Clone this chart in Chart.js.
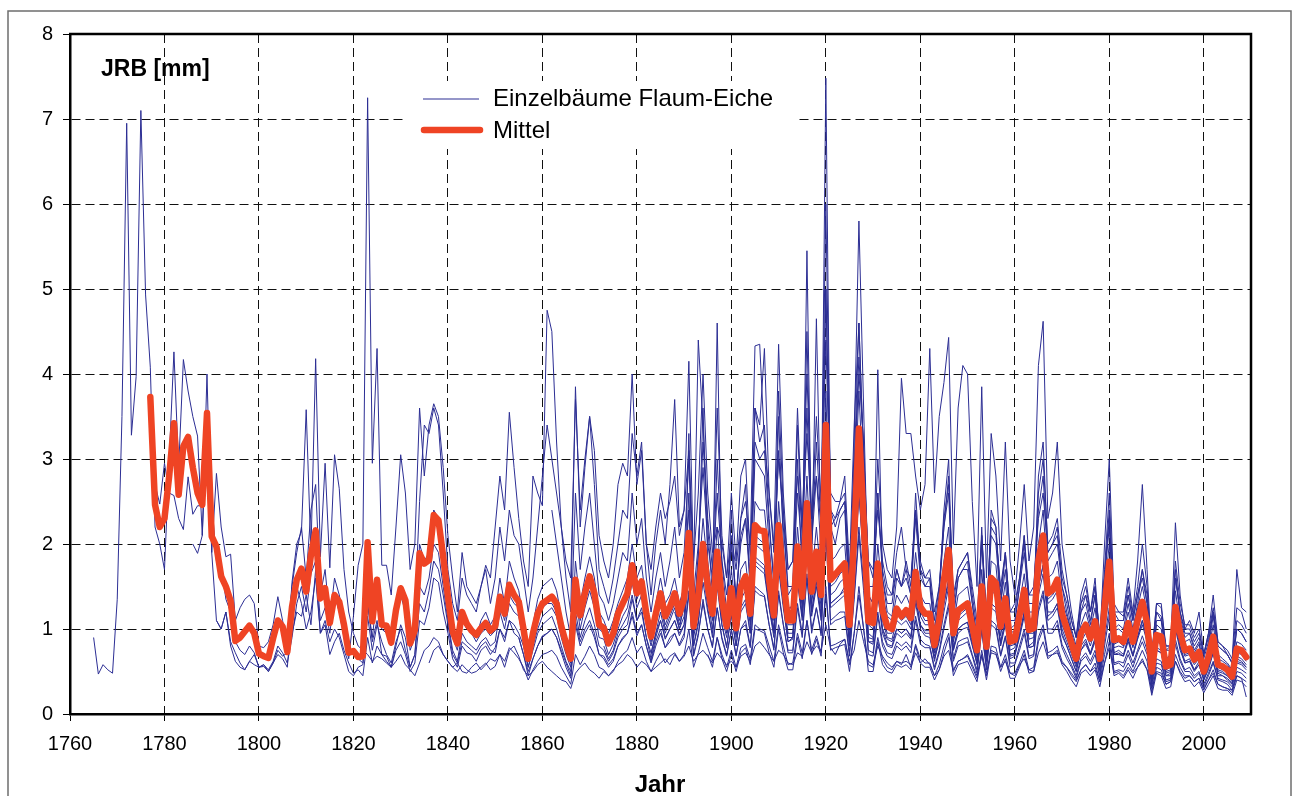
<!DOCTYPE html>
<html>
<head>
<meta charset="utf-8">
<script src="https://cdn.jsdelivr.net/npm/chart.js@4.4.1/dist/chart.umd.min.js"></script>
<style>
  html, body { margin: 0; padding: 0; background: #fff; }
  #wrap { width: 1293px; height: 796px; position: relative; }
</style>
</head>
<body>
<div id="wrap"><canvas id="c" width="1293" height="796"></canvas></div>
<script>
// ---------------- DATA ----------------
const xTickLabels = [1760, 1780, 1800, 1820, 1840, 1860, 1880, 1900, 1920, 1940, 1960, 1980, 2000];
const yTickLabels = [0, 1, 2, 3, 4, 5, 6, 7, 8];
const seriesNames = ['Einzelbäume Flaum-Eiche', 'Mittel'];
const axisTitleY = 'JRB [mm]';
const axisTitleX = 'Jahr';

// mean ring width (Mittel), 1777 - 2009
const meanStart = 1777;
const meanValues = [
  3.73, 2.46, 2.20, 2.30, 2.80, 3.42, 2.58, 3.15, 3.26, 2.90,
  2.60, 2.46, 3.54, 2.09, 1.97, 1.62, 1.50, 1.33, 0.86, 0.90,
  0.97, 1.04, 0.95, 0.71, 0.68, 0.66, 0.89, 1.10, 1.03, 0.73,
  1.26, 1.58, 1.71, 1.44, 1.87, 2.16, 1.36, 1.48, 1.07, 1.40,
  1.32, 1.05, 0.72, 0.74, 0.67, 0.68, 2.02, 1.09, 1.58, 1.05,
  1.04, 0.84, 1.22, 1.48, 1.34, 0.83, 0.99, 1.89, 1.77, 1.81,
  2.34, 2.28, 1.85, 1.38, 0.97, 0.83, 1.20, 1.06, 0.98, 0.93,
  1.01, 1.07, 0.98, 1.03, 1.38, 1.18, 1.52, 1.40, 1.32, 1.00,
  0.65, 0.95, 1.18, 1.30, 1.34, 1.38, 1.30, 1.03, 0.83, 0.65,
  1.58, 1.16, 1.42, 1.62, 1.42, 1.05, 1.01, 0.83, 0.95, 1.18,
  1.30, 1.42, 1.75, 1.42, 1.56, 1.18, 0.91, 1.18, 1.42, 1.15,
  1.26, 1.42, 1.18, 1.36, 2.13, 1.03, 1.38, 2.00, 1.50, 1.18,
  1.91, 1.34, 1.03, 1.48, 1.01, 1.50, 1.62, 1.18, 2.22, 2.16,
  2.15, 1.58, 1.16, 2.22, 1.58, 1.10, 1.10, 1.97, 1.38, 2.48,
  1.44, 1.91, 1.40, 3.40, 1.58, 1.64, 1.71, 1.77, 1.05, 2.09,
  3.36, 2.28, 1.09, 1.07, 1.77, 1.22, 1.03, 1.00, 1.24, 1.15,
  1.22, 1.13, 1.67, 1.26, 1.18, 1.18, 0.81, 1.10, 1.58, 1.93,
  0.95, 1.22, 1.26, 1.30, 1.03, 0.75, 1.50, 0.79, 1.60, 1.54,
  1.03, 1.36, 0.85, 0.87, 1.16, 1.46, 0.99, 1.01, 1.81, 2.10,
  1.42, 1.46, 1.58, 1.18, 1.01, 0.83, 0.65, 0.95, 1.05, 0.89,
  1.09, 0.65, 1.26, 1.79, 0.87, 0.89, 0.85, 1.07, 0.85, 1.10,
  1.32, 1.07, 0.50, 0.93, 0.91, 0.56, 0.58, 1.26, 0.95, 0.75,
  0.77, 0.64, 0.73, 0.50, 0.67, 0.91, 0.58, 0.56, 0.52, 0.44,
  0.77, 0.75, 0.67
];

// individual trees: first year of each series
const treeStartYears = [1765, 1777, 1786, 1791, 1806, 1822, 1833, 1836, 1846, 1855, 1862, 1873, 1883, 1888, 1895, 1905];

const tree01 = [
  0.90, 0.47, 0.58, 0.52, 0.48, 1.35, 3.50, 6.95, 3.28, 3.97,
  7.10, 4.93, 4.08, 2.20, 2.00, 1.70, 3.00, 4.26, 2.90, 4.17,
  3.80, 3.50, 3.27, 2.10, 4.00, 1.90, 2.83, 2.20, 1.85, 1.88,
  1.10, 1.25, 1.35, 1.40, 1.30, 0.80, 0.78, 0.85, 1.05, 1.38,
  1.10, 0.75, 1.55, 2.00, 2.15, 3.58, 1.90, 4.18, 1.85, 2.95,
  1.72, 3.05, 2.65, 1.70, 1.20, 0.95, 0.80, 0.75, 0.70, 0.62,
  0.68, 0.65, 0.60, 0.55, 0.62, 0.70, 0.58, 0.52, 0.45, 0.60,
  0.75, 0.80, 0.90, 0.85, 0.70, 0.62, 0.55, 0.60, 0.50, 0.48,
  0.55, 0.60, 0.52, 0.58, 0.65, 0.62, 0.70, 0.55, 0.75, 0.80,
  0.68, 0.52, 0.45, 0.50, 0.58, 0.62, 0.55, 0.50, 0.45, 0.40,
  0.38, 0.30, 0.48, 0.55, 0.60, 0.52, 0.48, 0.42, 0.50, 0.45,
  0.52, 0.58, 0.62, 0.70, 0.65, 0.55, 0.62, 0.58, 0.50, 0.55,
  0.60, 0.65, 0.58, 0.70, 0.62, 0.68, 0.80, 0.62, 0.70, 0.75,
  0.68, 0.60, 0.72, 0.65, 0.58, 0.62, 0.55, 0.68, 0.72, 0.62,
  0.80, 0.85, 0.78, 0.70, 0.62, 0.75, 0.70, 0.60, 0.58, 0.72,
  0.68, 0.85, 0.72, 0.80, 0.75, 1.05, 0.78, 0.70, 0.82, 0.88,
  0.62, 0.75, 1.10, 0.85, 0.62, 0.58, 0.80, 0.68, 0.60, 0.55,
  0.62, 0.58, 0.70, 0.55, 0.72, 0.60, 0.65, 0.58, 0.45, 0.52,
  0.68, 0.75, 0.50, 0.62, 0.65, 0.70, 0.58, 0.45, 0.68, 0.48,
  0.72, 0.70, 0.55, 0.62, 0.48, 0.45, 0.58, 0.65, 0.52, 0.50,
  0.72, 0.85, 0.65, 0.70, 0.72, 0.60, 0.55, 0.48, 0.40, 0.52,
  0.58, 0.50, 0.55, 0.38, 0.60, 0.78, 0.48, 0.50, 0.45, 0.55,
  0.48, 0.55, 0.62, 0.52, 0.30, 0.50, 0.48, 0.35, 0.38, 0.62,
  0.50, 0.42, 0.45, 0.38, 0.42, 0.30, 0.40, 0.48, 0.35, 0.32,
  0.30, 0.28, 0.45, 0.42, 0.38
];
const tree02 = [
  3.36, 2.70, 2.47, 2.95, 2.60, 2.57, 2.30, 2.17, 2.79, 2.35,
  2.45, 2.45, 3.20, 2.50, 1.80, 1.75, 1.35, 1.20, 0.85, 0.75,
  0.70, 0.80, 0.72, 0.55, 0.58, 0.52, 0.62, 0.80, 0.72, 0.60,
  0.90, 1.30, 1.50, 1.20, 1.65, 1.80, 1.10, 1.25, 0.95, 1.40,
  1.20, 0.90, 0.65, 1.15, 1.75, 2.00, 7.25, 2.95, 4.30, 1.75,
  1.75, 1.40, 2.20, 3.05, 2.60, 1.70, 2.00, 3.60, 2.80, 3.40,
  3.65, 3.50, 2.90, 2.10, 1.60, 1.20, 1.90, 1.50, 1.40, 1.30,
  1.50, 1.75, 1.60, 2.20, 2.80, 2.40, 3.55, 2.90, 2.30, 1.80,
  1.50, 2.80, 2.60, 2.45, 4.75, 4.50, 3.20, 2.20, 1.80, 1.60,
  3.70, 2.40, 3.00, 3.50, 3.10, 2.10, 1.80, 1.60, 2.00, 2.70,
  2.95, 2.80, 4.00, 2.70, 3.10, 2.00, 1.70, 2.20, 2.60, 2.30,
  2.50, 2.80, 2.10, 2.40, 3.10, 1.80, 2.60, 4.00, 2.60, 1.90,
  2.20, 2.00, 1.60, 2.10, 1.70, 2.30, 2.50, 2.00, 4.33, 4.35,
  3.20, 2.60, 1.90, 3.00, 2.40, 1.70, 1.80, 2.80, 2.20, 3.30,
  2.30, 2.80, 2.20, 4.40, 2.40, 2.30, 2.50, 2.60, 1.60, 2.80,
  4.20, 3.10, 1.80, 1.70, 2.40, 1.80, 1.50, 1.40, 1.90, 2.20,
  1.70, 1.60, 2.40, 1.80, 1.60, 1.70, 1.20, 1.50, 2.30, 2.70,
  1.40, 1.70, 1.80, 1.90, 1.50, 1.10, 2.10, 1.20, 2.20, 2.10,
  1.50, 1.90, 1.20, 1.30, 1.60, 2.00, 1.40, 1.50, 2.30, 2.60,
  1.90, 2.00, 2.10, 1.60, 1.40, 1.10, 0.90, 1.30, 1.40, 1.20,
  1.50, 0.90, 1.60, 2.30, 1.20, 1.10, 1.10, 1.40, 1.10, 1.40,
  1.60, 1.30, 0.70, 1.20, 1.10, 0.80, 0.80, 1.60, 1.20, 1.00,
  1.00, 0.85, 0.95, 0.70, 0.90, 1.20, 0.80, 0.75, 0.70, 0.60,
  1.00, 0.95, 0.85
];
const tree03 = [
  2.00, 1.89, 2.10, 3.40, 1.90, 1.10, 1.00, 1.20, 0.85, 0.72,
  0.60, 0.52, 0.62, 0.70, 0.55, 0.58, 0.50, 0.60, 0.75, 0.68,
  0.72, 0.95, 1.20, 1.15, 1.40, 1.05, 1.70, 0.95, 1.10, 0.85,
  1.00, 0.90, 0.70, 0.50, 0.45, 0.55, 0.58, 1.15, 0.75, 1.05,
  0.85, 0.70, 0.60, 0.85, 1.00, 0.75, 0.55, 0.70, 1.30, 1.20,
  1.45, 1.80, 1.70, 1.40, 1.05, 0.70, 0.60, 0.85, 0.80, 0.75,
  0.70, 0.80, 0.85, 0.75, 0.72, 1.00, 0.90, 1.10, 1.05, 0.95,
  0.80, 0.55, 0.75, 0.95, 1.05, 1.10, 1.15, 1.00, 0.80, 0.62,
  0.50, 1.20, 0.90, 1.10, 1.25, 1.05, 0.80, 0.75, 0.62, 0.72,
  0.90, 1.00, 1.05, 1.35, 1.10, 1.20, 0.90, 0.72, 0.95, 1.10,
  0.90, 1.00, 1.10, 0.95, 1.05, 1.65, 0.80, 1.10, 1.55, 1.20,
  0.95, 1.50, 1.05, 0.80, 1.15, 0.80, 1.20, 1.30, 0.95, 1.75,
  1.70, 1.65, 1.25, 0.95, 1.70, 1.25, 0.85, 0.90, 1.55, 1.10,
  1.90, 1.15, 1.50, 1.10, 2.60, 1.25, 1.30, 1.35, 1.40, 0.85,
  1.60, 2.60, 1.80, 0.85, 0.85, 1.40, 0.95, 0.80, 0.78, 0.95,
  0.90, 0.95, 0.88, 1.30, 1.00, 0.92, 0.90, 0.65, 0.85, 1.20,
  1.50, 0.75, 0.95, 1.00, 1.02, 0.80, 0.60, 1.15, 0.62, 1.25,
  1.20, 0.80, 1.05, 0.68, 0.70, 0.90, 1.15, 0.78, 0.80, 1.40,
  1.65, 1.10, 1.15, 1.25, 0.92, 0.80, 0.65, 0.50, 0.75, 0.82,
  0.70, 0.85, 0.52, 1.00, 1.40, 0.70, 0.70, 0.68, 0.85, 0.68,
  0.88, 1.05, 0.85, 0.40, 0.75, 0.72, 0.45, 0.48, 1.00, 0.75,
  0.60, 0.62, 0.52, 0.58, 0.40, 0.55, 0.72, 0.48, 0.45, 0.42,
  0.36, 0.62, 0.60, 0.55
];
const tree04 = [
  1.10, 1.00, 1.20, 0.80, 0.62, 0.55, 0.52, 0.62, 0.58, 0.55,
  0.56, 0.50, 0.60, 0.70, 0.65, 0.55, 1.20, 1.50, 1.30, 1.00,
  1.20, 1.60, 0.95, 1.05, 0.70, 0.85, 0.95, 0.75, 0.60, 0.48,
  0.52, 0.45, 0.90, 0.60, 0.80, 0.70, 0.62, 0.55, 0.75, 0.85,
  0.70, 0.50, 0.60, 1.10, 1.05, 1.25, 1.60, 1.55, 1.20, 0.95,
  0.65, 0.55, 0.80, 0.72, 0.70, 0.62, 0.75, 0.80, 0.70, 0.78,
  1.00, 0.85, 1.10, 0.95, 0.90, 0.70, 0.50, 0.65, 0.80, 0.92,
  0.95, 1.00, 0.90, 0.75, 0.60, 0.45, 1.10, 0.85, 1.00, 1.10,
  0.95, 0.70, 0.68, 0.58, 0.65, 0.80, 0.90, 0.95, 1.20, 0.95,
  1.05, 0.80, 0.62, 0.85, 1.00, 0.78, 0.90, 0.95, 0.82, 0.95,
  1.45, 0.70, 0.95, 1.30, 1.00, 0.80, 1.25, 0.90, 0.70, 1.00,
  0.70, 1.00, 1.10, 0.80, 1.50, 1.45, 1.40, 1.05, 0.78, 1.45,
  1.05, 0.75, 0.75, 1.30, 0.95, 1.65, 1.00, 1.25, 0.95, 2.20,
  1.10, 1.15, 1.20, 1.20, 0.72, 1.40, 2.20, 1.55, 0.75, 0.72,
  1.20, 0.85, 0.72, 0.70, 0.85, 0.80, 0.85, 0.78, 1.15, 0.88,
  0.82, 0.80, 0.55, 0.75, 1.05, 1.30, 0.65, 0.85, 0.88, 0.90,
  0.70, 0.52, 1.00, 0.55, 1.10, 1.05, 0.70, 0.92, 0.60, 0.60,
  0.80, 1.00, 0.68, 0.70, 1.25, 1.45, 1.00, 1.00, 1.10, 0.82,
  0.70, 0.58, 0.45, 0.65, 0.72, 0.62, 0.75, 0.45, 0.88, 1.25,
  0.60, 0.62, 0.60, 0.75, 0.60, 0.75, 0.92, 0.75, 0.35, 0.65,
  0.62, 0.40, 0.42, 0.88, 0.65, 0.52, 0.55, 0.45, 0.50, 0.35,
  0.48, 0.62, 0.42, 0.40, 0.38, 0.32, 0.55, 0.52, 0.48
];
const tree05 = [
  0.80, 1.50, 1.90, 2.20, 1.60, 2.40, 2.70, 1.40, 1.70, 1.10,
  1.60, 1.40, 1.10, 0.80, 0.70, 0.65, 0.60, 1.30, 0.90, 1.40,
  1.00, 0.95, 0.80, 1.30, 1.40, 1.20, 0.75, 0.90, 2.00, 1.80,
  1.90, 2.40, 2.30, 1.80, 1.30, 0.90, 0.75, 1.10, 1.00, 0.95,
  0.85, 0.95, 1.00, 0.92, 0.98, 1.30, 1.10, 1.40, 1.30, 1.25,
  0.95, 0.62, 0.90, 1.10, 1.25, 1.30, 1.30, 1.20, 0.95, 0.78,
  0.60, 1.50, 1.10, 1.35, 1.55, 1.35, 1.00, 0.95, 0.80, 0.90,
  1.10, 1.25, 1.35, 1.70, 1.35, 1.50, 1.10, 0.85, 1.10, 1.35,
  1.05, 1.20, 1.35, 1.10, 1.30, 2.10, 0.95, 1.30, 1.90, 1.45,
  1.10, 1.85, 1.30, 0.95, 1.40, 0.95, 1.45, 1.55, 1.10, 2.10,
  2.05, 2.00, 1.50, 1.10, 2.10, 1.50, 1.05, 1.05, 1.85, 1.30,
  2.40, 1.40, 1.80, 1.35, 3.20, 1.50, 1.55, 1.65, 1.70, 1.00,
  2.00, 3.20, 2.20, 1.05, 1.00, 1.70, 1.15, 0.95, 0.95, 1.20,
  1.10, 1.15, 1.05, 1.60, 1.20, 1.10, 1.10, 0.75, 1.05, 1.50,
  1.85, 0.90, 1.15, 1.20, 1.25, 0.95, 0.70, 1.45, 0.75, 1.55,
  1.50, 1.00, 1.30, 0.80, 0.82, 1.10, 1.40, 0.95, 0.95, 1.75,
  2.00, 1.35, 1.40, 1.50, 1.10, 0.95, 0.78, 0.60, 0.90, 1.00,
  0.85, 1.05, 0.60, 1.20, 1.70, 0.82, 0.85, 0.80, 1.00, 0.80,
  1.05, 1.25, 1.00, 0.48, 0.88, 0.85, 0.52, 0.55, 1.20, 0.90,
  0.70, 0.72, 0.60, 0.70, 0.48, 0.65, 0.88, 0.55, 0.52, 0.50,
  0.42, 0.72, 0.70, 0.62
];
const tree06 = [
  0.70, 1.30, 0.85, 1.10, 0.70, 0.68, 0.55, 0.80, 1.05, 0.90,
  0.55, 0.70, 1.50, 1.40, 1.60, 2.00, 1.90, 1.50, 1.10, 0.75,
  0.62, 0.95, 0.85, 0.80, 0.75, 0.85, 0.90, 0.80, 0.85, 1.20,
  1.00, 1.30, 1.20, 1.15, 0.85, 0.55, 0.80, 1.00, 1.15, 1.20,
  1.25, 1.15, 0.90, 0.70, 0.55, 1.40, 1.00, 1.25, 1.45, 1.25,
  0.90, 0.88, 0.70, 0.82, 1.00, 1.15, 1.25, 1.55, 1.25, 1.40,
  1.05, 0.80, 1.05, 1.30, 1.00, 1.15, 1.30, 1.05, 1.25, 3.30,
  1.10, 1.80, 3.60, 1.80, 1.30, 4.60, 1.50, 1.00, 2.40, 1.20,
  2.30, 2.70, 1.40, 3.00, 2.90, 2.80, 2.00, 1.30, 3.50, 2.00,
  1.20, 1.30, 3.00, 1.60, 5.45, 1.80, 4.65, 2.00, 7.48, 2.20,
  2.00, 2.30, 2.40, 1.20, 3.20, 5.80, 3.60, 1.40, 1.30, 4.05,
  1.60, 1.20, 1.15, 1.60, 1.50, 1.70, 1.40, 2.60, 1.70, 1.50,
  1.60, 0.90, 1.40, 2.40, 3.00, 1.10, 1.60, 1.70, 1.80, 1.30,
  0.85, 2.20, 0.95, 2.40, 2.20, 1.30, 1.90, 1.00, 1.05, 1.50,
  2.10, 1.20, 1.20, 2.80, 3.20, 1.90, 2.00, 2.20, 1.50, 1.20,
  0.95, 0.75, 1.20, 1.30, 1.05, 1.40, 0.75, 1.60, 2.40, 1.00,
  1.05, 1.00, 1.30, 1.00, 1.30, 1.70, 1.30, 0.55, 1.10, 1.10,
  0.65, 0.70, 1.70, 1.15, 0.90, 0.95, 0.75, 0.85, 0.55, 0.80,
  1.15, 0.70, 0.65, 0.60, 0.52, 1.00, 0.95, 0.85
];
const tree07 = [
  1.20, 2.50, 3.40, 3.30, 3.60, 3.40, 2.60, 1.70, 1.30, 1.10,
  1.60, 1.40, 1.30, 1.20, 1.50, 1.70, 1.30, 1.60, 2.20, 1.80,
  2.40, 2.10, 2.00, 1.60, 1.20, 1.60, 2.20, 2.80, 3.40, 3.00,
  2.60, 2.20, 1.60, 1.20, 3.85, 2.20, 2.90, 3.50, 2.70, 1.70,
  1.50, 1.30, 1.60, 2.00, 2.40, 2.30, 3.30, 2.80, 3.20, 2.00,
  1.40, 2.00, 2.40, 2.00, 2.70, 3.70, 2.20, 2.40, 4.15, 1.70,
  4.40, 3.40, 2.30, 1.70, 3.60, 2.10, 1.60, 2.60, 1.80, 2.80,
  3.00, 1.80, 3.60, 3.40, 4.30, 2.60, 2.00, 4.35, 2.60, 1.70,
  1.80, 3.60, 2.20, 4.00, 2.30, 3.50, 2.50, 5.00, 2.60, 2.50,
  2.50, 2.80, 1.70, 3.40, 4.60, 3.00, 1.80, 1.60, 3.00, 2.00,
  1.70, 1.60, 2.20, 3.95, 3.30, 3.30, 2.80, 2.40, 2.70, 4.30,
  2.60, 3.50, 3.90, 4.43, 2.00, 3.60, 4.10, 4.00, 2.50, 1.50,
  3.85, 1.60, 3.30, 2.80, 1.80, 3.20, 1.80, 1.40, 2.00, 2.70,
  1.80, 2.20, 4.10, 4.62, 2.30, 2.60, 3.20, 2.00, 1.60, 1.20,
  0.90, 1.40, 1.60, 1.20, 1.60, 0.85, 2.00, 3.00, 1.30, 1.20,
  1.20, 1.60, 1.20, 1.80, 2.70, 1.70, 0.65, 1.30, 1.30, 0.75,
  0.80, 2.25, 1.40, 1.00, 1.10, 0.95, 1.20, 0.70, 0.95, 1.40,
  0.85, 0.80, 0.70, 0.60, 1.70, 1.25, 1.20
];
const tree08 = [
  0.60, 0.75, 0.80, 0.70, 0.62, 0.55, 0.50, 0.58, 0.52, 0.48,
  0.50, 0.55, 0.60, 0.52, 0.56, 0.70, 0.62, 0.78, 0.72, 0.65,
  0.55, 0.40, 0.52, 0.62, 0.70, 0.72, 0.75, 0.68, 0.55, 0.45,
  0.35, 0.70, 0.58, 0.68, 0.80, 0.70, 0.55, 0.52, 0.45, 0.50,
  0.62, 0.70, 0.75, 0.90, 0.72, 0.80, 0.62, 0.50, 0.62, 0.72,
  0.60, 0.68, 0.72, 0.62, 0.70, 1.00, 0.55, 0.72, 0.95, 0.78,
  0.62, 0.90, 0.70, 0.55, 0.75, 0.55, 0.78, 0.82, 0.65, 1.05,
  1.00, 0.98, 0.80, 0.62, 1.05, 0.80, 0.58, 0.60, 0.95, 0.72,
  1.10, 0.75, 0.92, 0.72, 1.40, 0.80, 0.82, 0.85, 0.88, 0.58,
  0.95, 1.40, 1.00, 0.58, 0.55, 0.90, 0.65, 0.55, 0.52, 0.62,
  0.60, 0.62, 0.58, 0.82, 0.65, 0.60, 0.60, 0.45, 0.58, 0.80,
  0.95, 0.52, 0.62, 0.65, 0.68, 0.55, 0.42, 0.75, 0.45, 0.80,
  0.78, 0.55, 0.70, 0.48, 0.48, 0.60, 0.75, 0.52, 0.55, 0.90,
  1.05, 0.72, 0.75, 0.80, 0.62, 0.55, 0.45, 0.38, 0.52, 0.58,
  0.50, 0.60, 0.38, 0.70, 0.95, 0.50, 0.52, 0.50, 0.60, 0.50,
  0.62, 0.75, 0.62, 0.25, 0.55, 0.52, 0.35, 0.38, 0.70, 0.55,
  0.45, 0.45, 0.38, 0.42, 0.28, 0.40, 0.52, 0.35, 0.32, 0.30,
  0.25, 0.45, 0.42, 0.20
];
const tree09 = [
  0.90, 1.10, 1.20, 1.05, 1.15, 1.60, 1.30, 1.80, 1.60, 1.45,
  1.10, 0.75, 1.05, 1.35, 1.50, 1.55, 1.60, 1.45, 1.15, 0.90,
  0.70, 1.80, 1.30, 1.60, 1.85, 1.60, 1.20, 1.10, 0.95, 1.10,
  1.30, 1.45, 1.60, 2.00, 1.60, 1.75, 1.30, 1.00, 1.30, 1.60,
  1.30, 1.40, 1.60, 1.30, 1.50, 2.40, 1.15, 1.55, 2.30, 1.70,
  1.30, 2.20, 1.50, 1.15, 1.70, 1.15, 1.70, 1.80, 1.30, 2.50,
  2.40, 2.40, 1.80, 1.30, 2.50, 1.80, 1.25, 1.25, 2.20, 1.55,
  2.80, 1.60, 2.20, 1.60, 3.80, 1.80, 1.85, 1.95, 2.00, 1.20,
  2.40, 3.80, 2.60, 1.25, 1.20, 2.00, 1.40, 1.15, 1.10, 1.40,
  1.30, 1.40, 1.25, 1.90, 1.40, 1.30, 1.30, 0.90, 1.25, 1.80,
  2.20, 1.05, 1.40, 1.45, 1.50, 1.15, 0.85, 1.70, 0.90, 1.80,
  1.75, 1.15, 1.55, 0.95, 0.98, 1.30, 1.65, 1.10, 1.15, 2.00,
  2.40, 1.60, 1.65, 1.80, 1.35, 1.15, 0.95, 0.72, 1.05, 1.20,
  1.00, 1.25, 0.72, 1.45, 2.00, 0.98, 1.00, 0.95, 1.20, 0.95,
  1.25, 1.50, 1.20, 0.55, 1.05, 1.00, 0.62, 0.65, 1.45, 1.05,
  0.85, 0.88, 0.72, 0.82, 0.55, 0.75, 1.05, 0.65, 0.62, 0.58,
  0.50, 0.85, 0.82, 0.75
];
const tree10 = [
  0.90, 0.70, 0.45, 0.65, 0.80, 0.90, 0.95, 1.00, 0.90, 0.72,
  0.55, 0.42, 1.05, 0.80, 0.95, 1.05, 0.90, 0.70, 0.65, 0.55,
  0.62, 0.80, 0.88, 0.95, 1.15, 0.92, 1.05, 0.80, 0.60, 0.80,
  0.95, 0.78, 0.85, 0.95, 0.80, 0.90, 1.40, 0.68, 0.92, 1.35,
  1.00, 0.78, 1.25, 0.88, 0.68, 0.98, 0.68, 1.00, 1.05, 0.78,
  1.45, 1.40, 1.38, 1.05, 0.75, 1.40, 1.05, 0.72, 0.72, 1.25,
  0.90, 1.60, 0.95, 1.25, 0.92, 2.10, 1.05, 1.10, 1.12, 1.15,
  0.68, 1.35, 2.10, 1.45, 0.70, 0.68, 1.15, 0.80, 0.68, 0.65,
  0.80, 0.75, 0.80, 0.72, 1.10, 0.82, 0.78, 0.78, 0.52, 0.72,
  1.00, 1.25, 0.62, 0.80, 0.82, 0.85, 0.68, 0.48, 0.98, 0.52,
  1.05, 1.00, 0.68, 0.90, 0.55, 0.58, 0.75, 0.95, 0.65, 0.68,
  1.20, 1.40, 0.95, 0.95, 1.05, 0.78, 0.65, 0.55, 0.42, 0.62,
  0.68, 0.58, 0.70, 0.42, 0.80, 1.15, 0.58, 0.60, 0.55, 0.70,
  0.55, 0.72, 0.85, 0.70, 0.32, 0.60, 0.58, 0.38, 0.40, 0.82,
  0.62, 0.50, 0.50, 0.42, 0.48, 0.32, 0.45, 0.60, 0.40, 0.38,
  0.35, 0.28, 0.50, 0.48, 0.42
];
const tree11 = [
  2.40, 2.00, 1.60, 1.20, 0.90, 2.60, 1.70, 2.20, 2.60, 2.00,
  1.40, 1.30, 1.10, 1.30, 1.60, 1.90, 1.80, 2.60, 2.00, 2.30,
  1.60, 1.20, 1.60, 1.90, 1.50, 1.80, 2.20, 1.60, 1.90, 3.00,
  1.40, 2.00, 2.90, 2.00, 1.60, 2.60, 1.80, 1.40, 2.00, 1.40,
  2.00, 2.30, 1.60, 3.20, 3.00, 3.10, 2.20, 1.60, 3.10, 2.20,
  1.50, 1.50, 2.60, 1.90, 3.60, 2.00, 2.80, 1.90, 5.00, 2.20,
  2.30, 2.40, 2.50, 1.40, 2.90, 4.60, 3.00, 1.50, 1.50, 2.60,
  1.70, 1.40, 1.40, 1.70, 1.50, 1.80, 1.50, 2.40, 1.70, 1.60,
  1.60, 1.10, 1.50, 2.20, 2.80, 1.30, 1.70, 1.80, 1.90, 1.40,
  1.00, 2.10, 1.10, 2.30, 2.20, 1.40, 1.90, 1.20, 1.20, 1.60,
  2.10, 1.40, 1.40, 2.60, 3.00, 2.00, 2.10, 2.30, 1.70, 1.40,
  1.10, 0.90, 1.30, 1.50, 1.20, 1.50, 0.90, 1.70, 2.60, 1.20,
  1.20, 1.15, 1.50, 1.15, 1.50, 2.00, 1.50, 0.70, 1.30, 1.25,
  0.80, 0.80, 1.80, 1.30, 1.05, 1.05, 0.90, 1.00, 0.70, 0.95,
  1.25, 0.85, 0.80, 0.75, 0.65, 1.25, 1.20, 1.00
];
const tree12 = [
  0.80, 0.65, 0.75, 0.95, 1.05, 1.15, 1.40, 1.10, 1.25, 0.90,
  0.65, 0.90, 1.10, 0.88, 1.00, 1.10, 0.92, 1.05, 1.75, 0.80,
  1.05, 1.70, 1.25, 0.90, 1.60, 1.05, 0.78, 1.20, 0.80, 1.25,
  1.35, 0.95, 1.85, 1.80, 1.75, 1.25, 0.90, 1.85, 1.30, 0.85,
  0.88, 1.65, 1.15, 2.10, 1.20, 1.60, 1.15, 2.90, 1.30, 1.35,
  1.40, 1.50, 0.80, 1.70, 2.80, 1.90, 0.85, 0.82, 1.45, 1.00,
  0.82, 0.80, 1.00, 0.95, 1.00, 0.90, 1.40, 1.05, 0.95, 0.95,
  0.62, 0.90, 1.30, 1.60, 0.75, 1.00, 1.05, 1.08, 0.82, 0.58,
  1.25, 0.62, 1.30, 1.25, 0.82, 1.10, 0.65, 0.68, 0.92, 1.20,
  0.78, 0.80, 1.50, 1.75, 1.15, 1.20, 1.30, 0.95, 0.80, 0.65,
  0.50, 0.75, 0.85, 0.70, 0.88, 0.50, 1.05, 1.50, 0.70, 0.72,
  0.68, 0.88, 0.68, 0.90, 1.10, 0.88, 0.38, 0.75, 0.72, 0.45,
  0.45, 1.05, 0.78, 0.60, 0.62, 0.50, 0.58, 0.40, 0.52, 0.72,
  0.45, 0.45, 0.40, 0.35, 0.60, 0.58, 0.52
];
const tree13 = [
  0.70, 0.95, 1.20, 0.95, 1.10, 1.25, 1.00, 1.15, 1.90, 0.90,
  1.20, 1.85, 1.35, 1.00, 1.70, 1.15, 0.90, 1.30, 0.90, 1.35,
  1.45, 1.05, 2.00, 1.95, 1.90, 1.40, 1.00, 2.00, 1.40, 0.95,
  0.95, 1.80, 1.25, 2.30, 1.30, 1.75, 1.25, 3.10, 1.40, 1.45,
  1.55, 1.60, 0.90, 1.85, 3.10, 2.10, 0.95, 0.90, 1.60, 1.10,
  0.90, 0.88, 1.10, 1.05, 1.10, 1.00, 1.50, 1.15, 1.05, 1.05,
  0.72, 1.00, 1.45, 1.75, 0.85, 1.10, 1.15, 1.20, 0.90, 0.65,
  1.40, 0.70, 1.45, 1.40, 0.92, 1.25, 0.75, 0.78, 1.05, 1.35,
  0.88, 0.90, 1.65, 1.90, 1.30, 1.35, 1.45, 1.05, 0.90, 0.75,
  0.58, 0.85, 0.95, 0.80, 1.00, 0.58, 1.15, 1.65, 0.78, 0.80,
  0.78, 0.98, 0.78, 1.00, 1.20, 0.98, 0.45, 0.85, 0.82, 0.50,
  0.52, 1.15, 0.85, 0.68, 0.70, 0.58, 0.65, 0.45, 0.60, 0.80,
  0.52, 0.50, 0.45, 0.40, 0.68, 0.65, 0.58
];
const tree14 = [
  1.20, 1.00, 1.30, 2.60, 1.10, 1.90, 3.20, 2.20, 1.40, 3.00,
  1.80, 1.20, 2.00, 1.30, 2.10, 2.30, 1.50, 3.60, 3.20, 3.40,
  2.30, 1.50, 3.80, 2.40, 1.40, 1.50, 3.40, 2.00, 4.50, 2.00,
  3.20, 2.20, 6.00, 2.40, 2.20, 2.40, 2.50, 1.40, 2.80, 4.00,
  3.20, 1.40, 1.30, 2.60, 1.60, 1.30, 1.30, 1.70, 1.50, 1.60,
  1.40, 2.30, 1.60, 1.50, 1.50, 1.00, 1.40, 2.20, 2.60, 1.20,
  1.60, 1.70, 1.70, 1.30, 0.90, 2.00, 1.00, 2.10, 2.00, 1.30,
  1.70, 1.10, 1.10, 1.50, 1.90, 1.30, 1.30, 2.40, 2.80, 1.80,
  1.90, 2.00, 1.50, 1.30, 1.00, 0.80, 1.20, 1.40, 1.10, 1.40,
  0.80, 1.60, 2.20, 1.10, 1.10, 1.10, 1.40, 1.10, 1.40, 1.70,
  1.40, 0.65, 1.20, 1.15, 0.75, 0.75, 1.60, 1.20, 0.95, 0.95,
  0.80, 0.90, 0.65, 0.85, 1.20, 0.80, 0.75, 0.70, 0.60, 1.10,
  1.05, 0.95
];
const tree15 = [
  0.70, 0.55, 0.90, 0.65, 0.50, 0.70, 0.50, 0.72, 0.78, 0.58,
  1.00, 0.98, 0.95, 0.72, 0.55, 1.00, 0.72, 0.52, 0.52, 0.90,
  0.65, 1.10, 0.70, 0.88, 0.68, 1.50, 0.75, 0.78, 0.80, 0.82,
  0.50, 0.95, 1.50, 1.00, 0.50, 0.50, 0.85, 0.58, 0.50, 0.48,
  0.58, 0.55, 0.58, 0.52, 0.80, 0.60, 0.55, 0.55, 0.40, 0.52,
  0.72, 0.90, 0.45, 0.58, 0.60, 0.62, 0.50, 0.38, 0.70, 0.40,
  0.75, 0.72, 0.50, 0.65, 0.42, 0.42, 0.55, 0.70, 0.48, 0.50,
  0.85, 1.00, 0.68, 0.70, 0.75, 0.58, 0.50, 0.40, 0.32, 0.48,
  0.52, 0.45, 0.52, 0.32, 0.60, 0.85, 0.45, 0.48, 0.42, 0.52,
  0.42, 0.55, 0.65, 0.52, 0.22, 0.48, 0.45, 0.30, 0.32, 0.62,
  0.48, 0.38, 0.40, 0.32, 0.38, 0.25, 0.35, 0.45, 0.30, 0.28,
  0.28, 0.22, 0.40, 0.38, 0.32
];
const tree16 = [
  1.80, 1.75, 1.70, 1.30, 0.95, 1.80, 1.30, 0.90, 0.90, 1.60,
  1.15, 2.00, 1.20, 1.55, 1.15, 2.60, 1.30, 1.35, 1.40, 1.45,
  0.85, 1.70, 2.60, 1.85, 0.90, 0.88, 1.45, 1.00, 0.88, 0.85,
  1.00, 0.95, 1.00, 0.92, 1.35, 1.05, 0.98, 0.98, 0.68, 0.92,
  1.30, 1.55, 0.78, 1.00, 1.05, 1.08, 0.85, 0.60, 1.25, 0.65,
  1.30, 1.25, 0.85, 1.10, 0.70, 0.72, 0.95, 1.20, 0.80, 0.85,
  1.50, 1.75, 1.20, 1.20, 1.30, 1.00, 0.85, 0.70, 0.55, 0.80,
  0.88, 0.72, 0.90, 0.55, 1.05, 1.50, 0.72, 0.75, 0.70, 0.90,
  0.70, 0.92, 1.10, 0.90, 0.40, 0.78, 0.75, 0.48, 0.50, 1.05,
  0.80, 0.62, 0.65, 0.52, 0.62, 0.42, 0.58, 0.78, 0.50, 0.48,
  0.45, 0.38, 0.65, 0.62, 0.55
];
const treeValues = [tree01, tree02, tree03, tree04, tree05, tree06, tree07, tree08,
                    tree09, tree10, tree11, tree12, tree13, tree14, tree15, tree16];

// ---------------- STYLE ----------------
const FONT = '"Liberation Sans", Arial, Helvetica, sans-serif';
const BLUE = 'rgb(44,46,148)';
const RED = '#EF4424';

function toPoints(start, vals) {
  return vals.map((v, i) => ({ x: start + i, y: v }));
}

const datasets = [];
datasets.push({
  label: seriesNames[1],
  data: toPoints(meanStart, meanValues),
  borderColor: RED,
  borderWidth: 6.5,
  borderCapStyle: 'round',
  borderJoinStyle: 'round',
  pointRadius: 0,
  tension: 0,
  fill: false,
  order: 0
});
treeValues.forEach((vals, k) => {
  datasets.push({
    label: seriesNames[0],
    data: toPoints(treeStartYears[k], vals),
    borderColor: BLUE,
    borderWidth: 1,
    pointRadius: 0,
    tension: 0,
    fill: false,
    order: 1
  });
});

const decor = {
  id: 'decor',
  beforeDraw(chart) {
    const ctx = chart.ctx;
    ctx.save();
    ctx.fillStyle = '#fff';
    ctx.fillRect(0, 0, chart.width, chart.height);
    ctx.strokeStyle = '#6e6e6e';
    ctx.lineWidth = 1.5;
    ctx.strokeRect(8, 11, 1283, 820);
    ctx.restore();
  },
  afterDraw(chart) {
    const ctx = chart.ctx;
    const a = chart.chartArea;
    ctx.save();
    // closing frame of the plot area (top + right)
    ctx.strokeStyle = '#000';
    ctx.lineWidth = 2.5;
    ctx.beginPath();
    ctx.moveTo(a.left - 1, a.top);
    ctx.lineTo(a.right, a.top);
    ctx.lineTo(a.right, a.bottom + 1);
    ctx.stroke();

    ctx.fillStyle = '#000';
    ctx.textBaseline = 'middle';
    ctx.textAlign = 'left';
    ctx.font = 'bold 23px ' + FONT;
    ctx.fillText(axisTitleY, 101, 70);

    // legend box (white, borderless) + entries
    ctx.fillStyle = '#fff';
    ctx.fillRect(404, 81, 392, 68);
    ctx.lineCap = 'butt';
    ctx.strokeStyle = BLUE;
    ctx.lineWidth = 1.2;
    ctx.beginPath(); ctx.moveTo(423, 99); ctx.lineTo(479, 99); ctx.stroke();
    ctx.strokeStyle = RED;
    ctx.lineWidth = 6.5;
    ctx.lineCap = 'round';
    ctx.beginPath(); ctx.moveTo(424, 130); ctx.lineTo(480, 130); ctx.stroke();
    ctx.fillStyle = '#000';
    ctx.font = '24px ' + FONT;
    ctx.fillText(seriesNames[0], 493, 99);
    ctx.fillText(seriesNames[1], 493, 131);

    // x axis title
    ctx.textAlign = 'center';
    ctx.font = 'bold 24px ' + FONT;
    ctx.fillText(axisTitleX, 660, 785);
    ctx.restore();
  }
};

new Chart(document.getElementById('c'), {
  type: 'line',
  data: { datasets },
  options: {
    responsive: false,
    animation: false,
    devicePixelRatio: 1,
    layout: { padding: { top: 34, right: 42, left: 0, bottom: 0 } },
    plugins: { legend: { display: false }, tooltip: { enabled: false }, title: { display: false } },
    elements: { line: { borderJoinStyle: 'miter' } },
    scales: {
      x: {
        type: 'linear',
        min: 1760,
        max: 2010,
        afterFit: (s) => { s.height = 82; },
        afterBuildTicks: (s) => { s.ticks = xTickLabels.map(v => ({ value: v })); },
        ticks: {
          stepSize: 20,
          includeBounds: false,
          autoSkip: false,
          maxRotation: 0,
          padding: 11,
          color: '#000',
          font: { family: FONT, size: 20 },
          callback: (v) => String(v)
        },
        grid: { color: '#111', lineWidth: 1, drawTicks: true, tickLength: 7, tickColor: '#000' },
        border: { display: true, color: '#000', width: 2.5, dash: [9, 5] }
      },
      y: {
        type: 'linear',
        min: 0,
        max: 8,
        afterFit: (s) => { s.width = 70; },
        afterBuildTicks: (s) => { s.ticks = yTickLabels.map(v => ({ value: v })); },
        ticks: {
          stepSize: 1,
          padding: 10,
          color: '#000',
          font: { family: FONT, size: 20 },
          callback: (v) => String(v)
        },
        grid: { color: '#111', lineWidth: 1, drawTicks: true, tickLength: 7, tickColor: '#000' },
        border: { display: true, color: '#000', width: 2.5, dash: [9, 5] }
      }
    }
  },
  plugins: [decor]
});
</script>
</body>
</html>
